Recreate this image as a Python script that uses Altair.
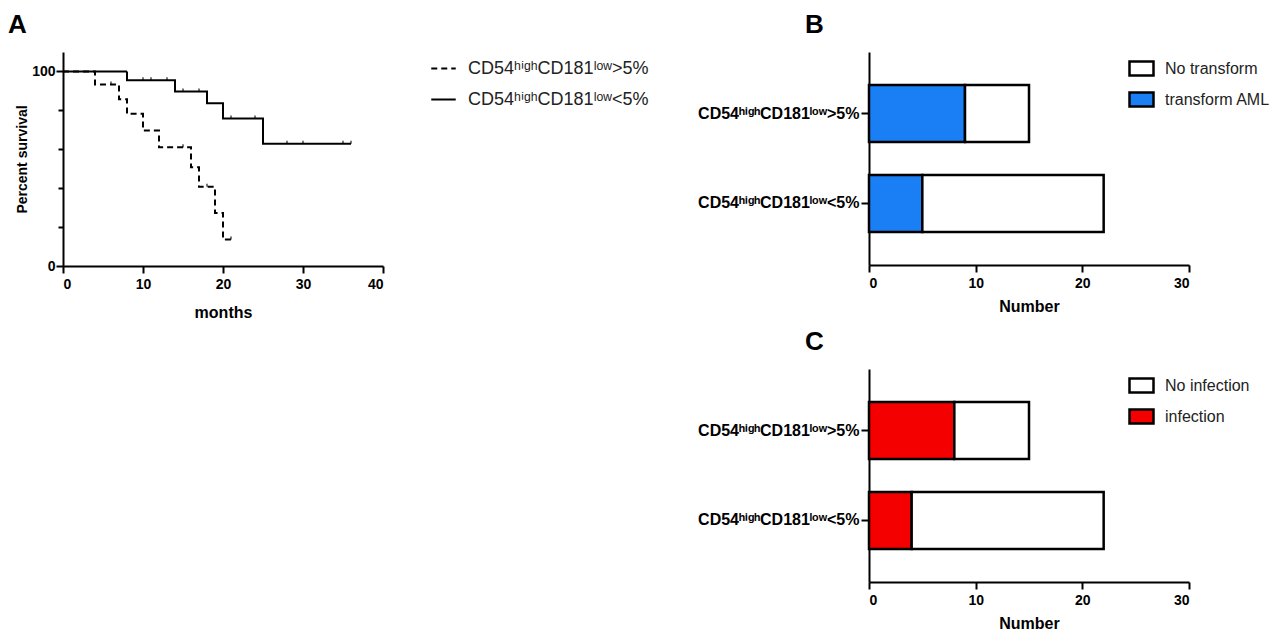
import altair as alt
import pandas as pd

# ---------------- Panel A data (Kaplan-Meier) ----------------
grp_hi = "CD54ʰⁱᵍʰCD181ˡᵒʷ>5%"
grp_lo = "CD54ʰⁱᵍʰCD181ˡᵒʷ<5%"

surv_hi_t = [0, 4, 7, 8, 10, 12, 16, 17, 19, 20, 21]
surv_hi_s = [100, 93.3, 85.7, 78.2, 69.6, 61.0, 50.7, 40.7, 27.3, 13.6, 13.6]
surv_lo_t = [0, 8, 14, 18, 20, 25, 36]
surv_lo_s = [100, 95.5, 89.7, 83.7, 75.8, 62.9, 62.9]

cens_hi_t = [6, 15, 18, 21]
cens_hi_s = [93.3, 61.0, 40.7, 13.6]
cens_lo_t = [10, 11, 13, 15, 17, 21, 24, 28, 30, 35, 36]
cens_lo_s = [95.5, 95.5, 95.5, 89.7, 89.7, 75.8, 75.8, 62.9, 62.9, 62.9, 62.9]

# ---------------- Panels B / C data ----------------
groups = [grp_hi, grp_lo]
transform_aml = [9, 5]
no_transform = [6, 17]
infection = [8, 4]
no_infection = [7, 18]

FONT = "Liberation Sans"

surv_df = pd.DataFrame(
    {"months": surv_hi_t + surv_lo_t,
     "surv": surv_hi_s + surv_lo_s,
     "group": [grp_hi] * len(surv_hi_t) + [grp_lo] * len(surv_lo_t)}
)
cens_df = pd.DataFrame(
    {"months": cens_hi_t + cens_lo_t,
     "surv": cens_hi_s + cens_lo_s,
     "group": [grp_hi] * len(cens_hi_t) + [grp_lo] * len(cens_lo_t)}
)

x_a = alt.X("months:Q", scale=alt.Scale(domain=[0, 40], nice=False),
            axis=alt.Axis(values=[0, 10, 20, 30, 40], title="months", tickSize=7,
                          labelPadding=4, titlePadding=13, titleFontSize=16))
y_a = alt.Y("surv:Q", scale=alt.Scale(domain=[0, 110], nice=False),
            axis=alt.Axis(values=list(range(0, 111, 10)), title="Percent survival",
                          labelExpr="datum.value % 50 === 0 ? datum.label : ''",
                          tickSize={"condition": {"test": "datum.value % 50 === 0", "value": 7}, "value": 5},
                          labelPadding=1, titlePadding=2, titleFontSize=14))

lines = alt.Chart(surv_df).mark_line(interpolate="step-after", color="black", strokeWidth=2).encode(
    x=x_a, y=y_a,
    strokeDash=alt.StrokeDash(
        "group:N",
        scale=alt.Scale(domain=[grp_hi, grp_lo], range=[[6, 4], [1, 0]]),
        legend=alt.Legend(title=None, orient="none", legendX=367, legendY=3,
                          symbolType="stroke", symbolSize=600, symbolStrokeWidth=2,
                          symbolStrokeColor="black", labelFontSize=18, labelFont=FONT,
                          labelFontWeight="normal", labelColor="#222", rowPadding=8,
                          labelOffset=11, labelLimit=400),
    ),
)
ticks_a = alt.Chart(cens_df).mark_point(shape="M0,0L0,-1", size=36, color="black",
                                       strokeWidth=1.5, filled=False).encode(
    x="months:Q", y="surv:Q"
)
chart_a = alt.layer(lines, ticks_a).properties(
    width=320, height=214,
    title=alt.TitleParams("A", anchor="start", frame="group", dx=-55, fontSize=26,
                          font=FONT, fontWeight="bold", offset=14),
)


def bar_panel(letter, pos_vals, neg_vals, pos_name, neg_name, pos_color):
    df = pd.DataFrame({
        "group": groups + groups,
        "status": [pos_name] * 2 + [neg_name] * 2,
        "count": pos_vals + neg_vals,
        "ord": [0, 0, 1, 1],
    })
    return alt.Chart(df).mark_bar(stroke="black", strokeWidth=2.5).encode(
        x=alt.X("count:Q", stack="zero", scale=alt.Scale(domain=[0, 30], nice=False),
                axis=alt.Axis(values=[0, 10, 20, 30], title="Number", tickSize=7,
                              labelPadding=4, titlePadding=8, titleFontSize=16)),
        y=alt.Y("group:N", sort=groups, title=None,
                scale=alt.Scale(paddingInner=0.367, paddingOuter=0.367),
                axis=alt.Axis(tickSize=8, labelPadding=2, labelFontSize=16, labelLimit=400)),
        color=alt.Color("status:N",
                        scale=alt.Scale(domain=[neg_name, pos_name], range=["white", pos_color]),
                        legend=alt.Legend(title=None, orient="none", legendX=259, legendY=3,
                                          symbolType="M-1,-0.58H1V0.58H-1Z", symbolSize=576,
                                          symbolStrokeColor="black", symbolStrokeWidth=2.5,
                                          symbolOpacity=1,
                                          labelFontSize=16, labelFont=FONT, labelColor="#222",
                                          labelFontWeight="normal",
                                          rowPadding=5, labelOffset=10, labelLimit=400)),
        order=alt.Order("ord:Q"),
    ).properties(
        width=320, height=213,
        title=alt.TitleParams(letter, anchor="start", frame="group", dx=-64, fontSize=26,
                              font=FONT, fontWeight="bold", offset=14),
    )


chart_b = bar_panel("B", transform_aml, no_transform, "transform AML", "No transform", "#1a7ff5")
chart_c = bar_panel("C", infection, no_infection, "infection", "No infection", "#f50000")

right = alt.vconcat(chart_b, chart_c, spacing=15).resolve_scale(color="independent").resolve_legend(
    color="independent")

chart = alt.hconcat(chart_a, right, spacing=48).resolve_scale(
    color="independent", strokeDash="independent"
).resolve_legend(color="independent", strokeDash="independent").properties(
    padding={"top": 4, "left": 0, "right": 0, "bottom": 0}
).configure_view(
    stroke=None
).configure_axis(
    domainColor="black", domainWidth=2, tickColor="black", tickWidth=2,
    labelFont=FONT, labelFontWeight="bold", labelColor="black", labelFontSize=14,
    titleFont=FONT, titleFontWeight="bold", titleColor="black", titleFontSize=15,
    grid=False,
).configure_title(font=FONT).configure_legend(labelFont=FONT)

chart.save("out.html", embed_options={"renderer": "svg", "actions": False})
